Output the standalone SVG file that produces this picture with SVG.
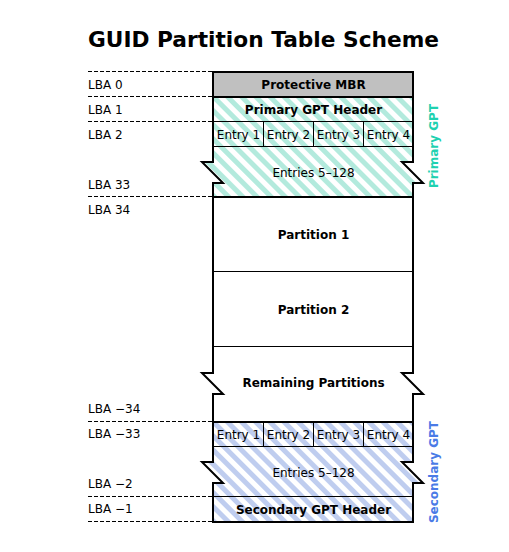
<svg xmlns="http://www.w3.org/2000/svg" width="509" height="552" viewBox="0 0 509 552">
<defs>
<pattern id="hatchP" patternUnits="userSpaceOnUse" width="10" height="10" patternTransform="rotate(-45)">
<rect width="10" height="10" fill="#ffffff"/>
<rect width="5" height="10" fill="#b3eadd"/>
</pattern>
<pattern id="hatchS" patternUnits="userSpaceOnUse" width="10" height="10" patternTransform="rotate(-45)">
<rect width="10" height="10" fill="#ffffff"/>
<rect width="5" height="10" fill="#bfcdef"/>
</pattern>
</defs>
<style>
text{font-family:"DejaVu Sans","Liberation Sans",sans-serif;font-size:12px;fill:#000}
.b{font-weight:bold}
.c{text-anchor:middle}
.title{font-size:21.7px;font-weight:bold}
.outer{stroke:#000;stroke-width:2;stroke-linejoin:miter}
.thin{stroke:#000;stroke-width:1;fill:none}
.dash{stroke:#000;stroke-width:1;stroke-dasharray:4,2;fill:none}
.vp{fill:#1fd1b0;font-weight:bold}
.vs{fill:#4a7be6;font-weight:bold}
</style>
<text class="title" x="88" y="47">GUID Partition Table Scheme</text>
<g id="lba-lines">
<line class="dash" x1="88" y1="71.5" x2="213" y2="71.5"/>
<line class="dash" x1="88" y1="96.5" x2="213" y2="96.5"/>
<line class="dash" x1="88" y1="121.5" x2="213" y2="121.5"/>
<line class="dash" x1="88" y1="196.5" x2="213" y2="196.5"/>
<line class="dash" x1="88" y1="421.5" x2="213" y2="421.5"/>
<line class="dash" x1="88" y1="496.5" x2="213" y2="496.5"/>
<line class="dash" x1="88" y1="521.5" x2="213" y2="521.5"/>
</g>
<g id="lba-labels">
<text x="88" y="89">LBA 0</text>
<text x="88" y="114">LBA 1</text>
<text x="88" y="139">LBA 2</text>
<text x="88" y="189">LBA 33</text>
<text x="88" y="214">LBA 34</text>
<text x="88" y="413">LBA −34</text>
<text x="88" y="438">LBA −33</text>
<text x="88" y="488">LBA −2</text>
<text x="88" y="513">LBA −1</text>
</g>
<g id="mbr">
<rect class="outer" x="213" y="72" width="200" height="25" fill="#c0c0c0"/>
<text class="b c" x="313.5" y="89">Protective MBR</text>
</g>
<g id="primary-gpt">
<polygon class="outer" fill="url(#hatchP)" points="213,97 413,97 413,162 402,162 423,183 413,183 413,197 213,197 213,183 223,183 202,162 213,162"/>
<line class="thin" x1="213" y1="121.5" x2="413" y2="121.5"/>
<line class="thin" x1="213" y1="146.5" x2="413" y2="146.5"/>
<line class="thin" x1="263.5" y1="122" x2="263.5" y2="146"/>
<line class="thin" x1="313.5" y1="122" x2="313.5" y2="146"/>
<line class="thin" x1="363.5" y1="122" x2="363.5" y2="146"/>
<text class="b c" x="313.5" y="114">Primary GPT Header</text>
<text class="c" x="238.5" y="139">Entry 1</text>
<text class="c" x="288.5" y="139">Entry 2</text>
<text class="c" x="338.5" y="139">Entry 3</text>
<text class="c" x="388.5" y="139">Entry 4</text>
<text class="c" x="313.5" y="177">Entries 5–128</text>
</g>
<g id="partitions">
<polygon class="outer" fill="#ffffff" points="213,197 413,197 413,373 402,373 423,394 413,394 413,422 213,422 213,394 223,394 202,373 213,373"/>
<line class="thin" x1="213" y1="271.5" x2="413" y2="271.5"/>
<line class="thin" x1="213" y1="346.5" x2="413" y2="346.5"/>
<text class="b c" x="313.5" y="239">Partition 1</text>
<text class="b c" x="313.5" y="314">Partition 2</text>
<text class="b c" x="313.5" y="387">Remaining Partitions</text>
</g>
<g id="secondary-gpt">
<polygon class="outer" fill="url(#hatchS)" points="213,422 413,422 413,462 402,462 423,483 413,483 413,522 213,522 213,483 223,483 202,462 213,462"/>
<line class="thin" x1="213" y1="446.5" x2="413" y2="446.5"/>
<line class="thin" x1="213" y1="496.5" x2="413" y2="496.5"/>
<line class="thin" x1="263.5" y1="423" x2="263.5" y2="446"/>
<line class="thin" x1="313.5" y1="423" x2="313.5" y2="446"/>
<line class="thin" x1="363.5" y1="423" x2="363.5" y2="446"/>
<text class="c" x="238.5" y="439">Entry 1</text>
<text class="c" x="288.5" y="439">Entry 2</text>
<text class="c" x="338.5" y="439">Entry 3</text>
<text class="c" x="388.5" y="439">Entry 4</text>
<text class="c" x="313.5" y="477">Entries 5–128</text>
<text class="b c" x="313.5" y="514">Secondary GPT Header</text>
</g>
<g id="side-labels">
<text class="vp c" transform="translate(437.5,146) rotate(-90)">Primary GPT</text>
<text class="vs c" transform="translate(437.5,472) rotate(-90)">Secondary GPT</text>
</g>
</svg>
